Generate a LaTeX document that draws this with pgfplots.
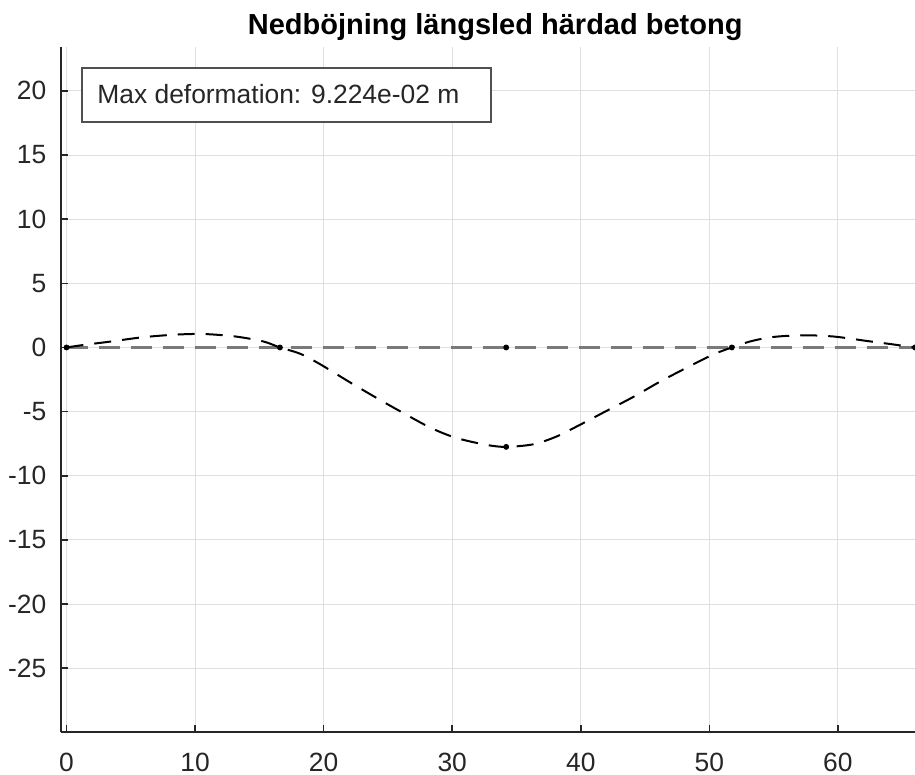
\documentclass[border=0pt]{standalone}
\usepackage{pgfplots}
\pgfplotsset{compat=1.18}
\usepackage{fontspec}
\setmainfont{Liberation Sans}
\definecolor{axgray}{HTML}{262626}
\definecolor{undef}{HTML}{7A7A7A}
\definecolor{gridc}{HTML}{DFDFDF}
\definecolor{boxc}{HTML}{505050}
\begin{document}
\begin{tikzpicture}
\begin{axis}[
  at={(0pt,0pt)}, anchor=south west,
  scale only axis,
  width=427pt, height=342.5pt,
  xmin=-0.43, xmax=66, ymin=-30, ymax=23.4,
  axis lines*=left,
  axis line style={-, axgray, line width=0.9pt},
  tick align=inside,
  major tick length=3.5pt,
  tick style={axgray, line width=0.8pt},
  xtick={0,10,20,30,40,50,60},
  xticklabels={0,10,20,30,40,50,60},
  ytick={-25,-20,-15,-10,-5,0,5,10,15,20},
  yticklabels={-25,-20,-15,-10,-5,0,5,10,15,20},
  xticklabel style={anchor=base, yshift=-19.7pt, inner sep=0pt},
  yticklabel style={anchor=east, xshift=-7.15pt, inner sep=0pt},
  ticklabel style={font=\fontsize{13.2}{15}\selectfont, text=axgray},
  grid=major,
  major grid style={gridc, line width=0.5pt},
  clip=true,
]
% undeformed beam
\addplot[undef, line width=1.8pt, dash pattern=on 10.5pt off 5.5pt] coordinates {
  (0,0) (66,0)
};
% deformed beam
\addplot[black, line width=1pt, dash pattern=on 8.5pt off 5.5pt, smooth, tension=0.5] coordinates {
  (0,0) (1.5,0.22) (3.2,0.43) (5.8,0.78) (8.3,0.99) (10.6,1.05) (13.1,0.86)
  (15.3,0.47) (16.6,0) (18.2,-0.5) (19.8,-1.35) (22.1,-2.75) (24.4,-4.1)
  (26.0,-5.0) (28.3,-6.25) (30.3,-7.05) (32.7,-7.6) (34.2,-7.75) (36.3,-7.55)
  (38.1,-6.95) (39.9,-6.05) (41.9,-5.0) (44.1,-3.85) (46.1,-2.7) (48.2,-1.6)
  (50.3,-0.55) (51.75,0) (53.3,0.5) (55.0,0.82) (57.3,0.95) (59.7,0.85) (62.3,0.5) (64.2,0.25) (66,0)
};
% nodes
\addplot[only marks, mark=*, mark size=1.25pt, black] coordinates {
  (0,0) (16.6,0) (34.2,0) (51.75,0) (66,0)
};
\addplot[only marks, mark=*, mark size=1.25pt, black] coordinates {
  (34.2,-7.75)
};
\end{axis}
% title
\node[anchor=base, font=\fontsize{14.5}{17}\selectfont\bfseries, inner sep=0pt] at (217.1pt,348.65pt) {Nedböjning längsled härdad betong};
% annotation box
\draw[boxc, line width=1.1pt, fill=white] (10.5pt,305.3pt) rectangle (214.85pt,332pt);
\node[anchor=base west, inner sep=0pt, font=\fontsize{13.2}{15}\selectfont, text=axgray] at (18pt,314.15pt) {Max deformation: 9.224e-02 m};
\pgfresetboundingbox
\path (-30.5pt,-21.35pt) rectangle (427pt,366.15pt);
\end{tikzpicture}
\end{document}
